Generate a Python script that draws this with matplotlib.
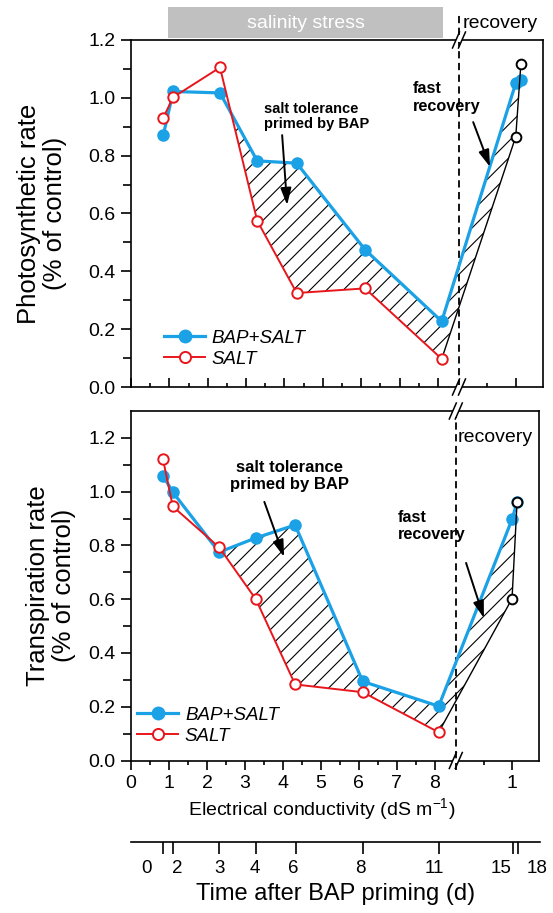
import numpy as np
import matplotlib
matplotlib.use("Agg")
import matplotlib.pyplot as plt
from matplotlib.lines import Line2D
from matplotlib.patches import Rectangle
from matplotlib.ticker import FixedLocator

plt.rcParams['font.family'] = ['Liberation Sans', 'DejaVu Sans']
plt.rcParams['mathtext.fontset'] = 'custom'
plt.rcParams['mathtext.rm'] = 'Liberation Sans'
plt.rcParams['hatch.linewidth'] = 0.8

# 数据
ec = [0.84, 1.1, 2.32, 3.29, 4.32, 6.1, 8.1]        # 盐胁迫阶段 EC (dS/m)
rec_ec = [1.0, 1.09]                                # 恢复阶段 EC
days = [0, 2, 3, 4, 6, 8, 11]
rec_days = [15, 18]
ec_ticks = [0, 1, 2, 3, 4, 5, 6, 7, 8]
rec_ticks = [1]

photo_bap = [0.870, 1.022, 1.017, 0.782, 0.774, 0.475, 0.227]
photo_bap_rec = [1.051, 1.061]
photo_salt = [0.931, 1.002, 1.105, 0.575, 0.325, 0.341, 0.097]
photo_salt_rec = [0.866, 1.117]

trans_bap = [1.060, 0.998, 0.775, 0.828, 0.876, 0.294, 0.202]
trans_bap_rec = [0.897, 0.962]
trans_salt = [1.122, 0.945, 0.793, 0.599, 0.283, 0.254, 0.105]
trans_salt_rec = [0.602, 0.962]

BLUE = '#1BA1E6'
RED = '#E8161B'

# 断轴: 恢复段映射到断点右侧
BRK = 8.55
K_REC = 1.48
XMAX = 10.74


def to_u(stress_x, rec_x):
    return np.concatenate([np.asarray(stress_x, float),
                           BRK + K_REC * np.asarray(rec_x, float)])


W, H = 553, 913
fig = plt.figure(figsize=(W / 100, H / 100), dpi=100)


def px_axes(l, t, r, b):
    return fig.add_axes([l / W, 1 - b / H, (r - l) / W, (b - t) / H])


ax1 = px_axes(131, 40, 543, 387)
ax2 = px_axes(131, 411, 539, 760.5)
ax3 = px_axes(131, 841, 540, 841.5)

u = to_u(ec, rec_ec)
major_u = to_u(ec_ticks, rec_ticks)
minor_u = to_u(np.arange(0.5, 8.0, 1.0), [0.5])


def panel(ax, bap, bap_rec, salt, salt_rec, ytop, tick_dir):
    bap_all = np.array(bap + bap_rec)
    low_all = np.array(salt + salt_rec)
    mask = (bap_all >= low_all) & (u >= 2.0)
    ax.fill_between(u, bap_all, low_all, where=mask, interpolate=True,
                    facecolor='white', edgecolor='black', hatch='//',
                    linewidth=0, zorder=1)
    ax.plot(u, bap_all, '-o', color=BLUE, lw=2.3, ms=8, mec=BLUE, zorder=3)
    n = len(salt)
    ax.plot(u[n - 1:], low_all[n - 1:], color='black', lw=1.0, zorder=4)
    ax.plot(u[n:], salt_rec, 'o', ls='none', mfc='white', mec='black',
            ms=7, mew=1.4, zorder=5)
    ax.plot(u[:n], salt, '-o', color=RED, lw=1.4, ms=7.5, mfc='white',
            mew=1.4, zorder=5)

    ax.set_xlim(0, XMAX)
    ax.set_ylim(0, ytop)
    ax.xaxis.set_major_locator(FixedLocator(major_u))
    ax.xaxis.set_minor_locator(FixedLocator(minor_u))
    ax.set_yticks(np.arange(0, 1.21, 0.2))
    ax.set_yticks(np.arange(0.1, 1.2, 0.2), minor=True)
    ax.yaxis.set_major_formatter('{x:.1f}')
    ax.tick_params(axis='y', which='major', direction='out', length=7,
                   width=1.2, labelsize=14, pad=4)
    ax.tick_params(axis='y', which='minor', direction='out', length=5.5,
                   width=1.2)
    ax.tick_params(axis='x', which='major', direction=tick_dir, length=6.3,
                   width=1.2, labelsize=14, pad=4)
    ax.tick_params(axis='x', which='minor', direction=tick_dir, length=3,
                   width=1.2)
    for s in ax.spines.values():
        s.set_linewidth(1.2)

    # 虚线分隔 & 断轴标记
    wpx, hpx = ax.bbox.width, ax.bbox.height
    xb = BRK / XMAX
    dx, dy, g = 3.5 / wpx, 8 / hpx, 6 / wpx
    for y in (0, 1):
        ax.fill([xb - g / 2, xb + g / 2, xb + g / 2, xb - g / 2],
                [y - 2 / hpx, y - 2 / hpx, y + 2 / hpx, y + 2 / hpx],
                color='white', transform=ax.transAxes, clip_on=False,
                zorder=10, lw=0)
        for s in (-g / 2, g / 2):
            ax.plot([xb + s - dx, xb + s + dx], [y - dy, y + dy], color='k',
                    lw=1.1, transform=ax.transAxes, clip_on=False, zorder=11)


panel(ax1, photo_bap, photo_bap_rec, photo_salt, photo_salt_rec, 1.2, 'in')
panel(ax2, trans_bap, trans_bap_rec, trans_salt, trans_salt_rec, 1.3, 'out')
ax1.set_xticklabels([])
ax2.set_xticklabels([str(t) for t in ec_ticks] + [str(t) for t in rec_ticks])

ax1.axvline(BRK, ymin=0, ymax=1.29 / 1.2, color='k', lw=1.3,
            ls=(0, (4, 2.5)), clip_on=False, zorder=2)
ax2.axvline(BRK, ymin=-0.027, ymax=0.983, color='k', lw=1.3,
            ls=(0, (4, 2.5)), clip_on=False, zorder=2)

# 坐标轴标签
ax1.text(-0.216, 0.5, 'Photosynthetic rate\n(% of control)', rotation=90,
         ha='center', va='center', fontsize=18.5, linespacing=1.15,
         transform=ax1.transAxes)
ax2.text(-0.195, 0.5, 'Transpiration rate\n(% of control)', rotation=90,
         ha='center', va='center', fontsize=18.5, linespacing=1.1,
         transform=ax2.transAxes)
ax2.text(0.468, -0.159, 'Electrical conductivity (dS m$^{\\mathregular{-1}}$)',
         ha='center', va='baseline', fontsize=14, transform=ax2.transAxes)

# 顶部标注
fig.patches.append(Rectangle((168 / W, 1 - 38 / H), (443 - 168) / W, 31 / H,
                             transform=fig.transFigure, facecolor='#c0c0c0',
                             edgecolor='none'))
fig.text(306 / W, 1 - 23 / H, 'salinity stress', color='white', fontsize=14,
         ha='center', va='center')
ax1.text(BRK + 0.1, 1.258, 'recovery', fontsize=14, ha='left', va='center',
         clip_on=False)
ax2.text(BRK + 0.06, 1.2, 'recovery', fontsize=14, ha='left', va='center')

arrow = dict(arrowstyle='-|>,head_length=0.85,head_width=0.27', color='k',
             lw=1.4, mutation_scale=12, shrinkA=0, shrinkB=0)
ax1.text(3.47, 0.935, 'salt tolerance\nprimed by BAP', fontsize=10.5,
         fontweight='bold', ha='left', va='center', linespacing=1.15)
ax1.annotate('', xy=(4.07, 0.629), xytext=(3.94, 0.871), arrowprops=arrow)
ax1.text(7.35, 1.001, 'fast\nrecovery', fontsize=11.7, fontweight='bold',
         ha='left', va='center', linespacing=1.2)
ax1.annotate('', xy=(9.36, 0.761), xytext=(8.92, 0.916), arrowprops=arrow)

ax2.text(4.17, 1.057, 'salt tolerance\nprimed by BAP', fontsize=12,
         fontweight='bold', ha='center', va='center', linespacing=1.15)
ax2.annotate('', xy=(4.03, 0.757), xytext=(3.51, 0.962), arrowprops=arrow)
ax2.text(7.03, 0.872, 'fast\nrecovery', fontsize=11.7, fontweight='bold',
         ha='left', va='center', linespacing=1.2)
ax2.annotate('', xy=(9.29, 0.530), xytext=(8.82, 0.735), arrowprops=arrow)

# 图例
handles = [Line2D([], [], color=BLUE, lw=2.3, marker='o', ms=9, mec=BLUE),
           Line2D([], [], color=RED, lw=1.4, marker='o', ms=8, mfc='white',
                  mew=1.4)]
for ax, anchor in ((ax1, (0.08, 0.055)), (ax2, (0.015, 0.045))):
    ax.legend(handles, ['BAP+SALT', 'SALT'], loc='lower left',
              bbox_to_anchor=anchor, frameon=False,
              prop=dict(style='italic', size=13.5), handlelength=2.2,
              handletextpad=0.35, labelspacing=0.2, borderpad=0,
              borderaxespad=0)

# 第二横轴: 时间
ax3.set_xlim(0, XMAX)
ax3.set_ylim(0, 1)
ax3.patch.set_visible(False)
for k in ('left', 'right', 'top'):
    ax3.spines[k].set_visible(False)
ax3.spines['bottom'].set_linewidth(1.2)
ax3.set_yticks([])
ax3.set_xticks(u)
ax3.set_xticklabels([])
ax3.tick_params(axis='x', direction='out', length=8.5, width=1.2)
shifts = [-16, 4, 0, -1, -2, -3, -5, -12, 19]
for xi, d, sh in zip(u, days + rec_days, shifts):
    ax3.annotate(str(d), xy=(xi, 0), xycoords=('data', 'axes fraction'),
                 xytext=(sh, -27), textcoords='offset pixels', ha='center',
                 va='center', fontsize=13.5)
fig.text(336 / W, 1 - 900 / H, 'Time after BAP priming (d)', fontsize=17,
         ha='center', va='baseline')

fig.savefig('out.png', dpi=100)
